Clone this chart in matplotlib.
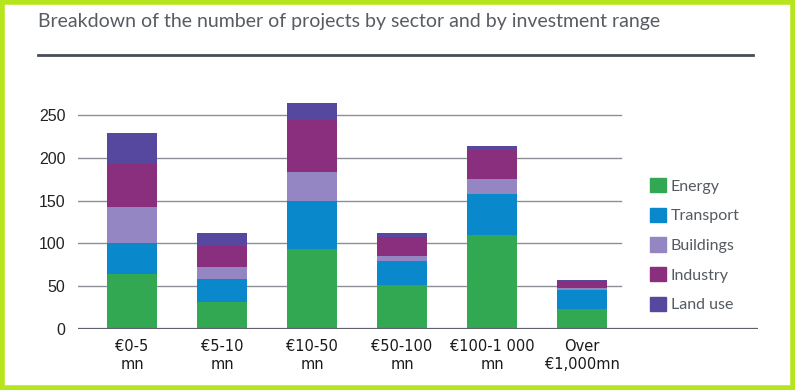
import matplotlib
matplotlib.use("Agg")
import matplotlib.pyplot as plt
from matplotlib.patches import Patch, Rectangle
import numpy as np

# data
ranges = ["€0-5\nmn", "€5-10\nmn", "€10-50\nmn", "€50-100\nmn", "€100-1 000\nmn", "Over\n€1,000mn"]
energy = [64, 32, 94, 51, 110, 23]
transport = [36, 27, 56, 28, 48, 23]
buildings = [43, 13, 33, 6, 17, 2]
industry = [50, 25, 61, 22, 34, 8]
land_use = [36, 15, 20, 5, 5, 1]
sectors = ["Energy", "Transport", "Buildings", "Industry", "Land use"]
colors = ["#33a852", "#0a88cc", "#9486c2", "#8a2f7e", "#56489e"]
yticks = [0, 50, 100, 150, 200, 250]

fig = plt.figure(figsize=(7.95, 3.9), dpi=100)

# green frame round the picture
fig.patches.append(Rectangle((0.002, 0.005), 0.995, 0.99, transform=fig.transFigure,
                             fill=False, edgecolor="#b5e61d", linewidth=4, zorder=0))

fig.text(38 / 795, 1 - 21 / 390, "Breakdown of the number of projects by sector and by investment range",
         fontsize=14, color="#575c63", family="Lato", va="center", ha="left")
fig.add_artist(plt.Line2D([38 / 795, 753 / 795], [1 - 55 / 390, 1 - 55 / 390],
                          transform=fig.transFigure, color="#474c55", linewidth=2))

ax = fig.add_axes([78 / 795, 0.1564, 680 / 795, 0.5926])
x = np.arange(len(ranges))
bottom = np.zeros(len(ranges))
series = [energy, transport, buildings, industry, land_use]
for vals, name, col in zip(series, sectors, colors):
    ax.bar(x, vals, 0.556, bottom=bottom, color=col, label=name, zorder=3)
    bottom += np.array(vals)

ax.set_xlim(-0.6, 6.956)
ax.set_ylim(0, 270)
for y in yticks[1:]:
    ax.plot([-0.6, 5.43], [y, y], color="#8c9096", linewidth=1, zorder=1)
ax.axhline(0, color="#5d626a", linewidth=1.6, zorder=4)

ax.set_yticks(yticks)
ax.set_yticklabels([str(v) for v in yticks], fontsize=11.5, color="#222222", family="Liberation Sans")
ax.set_xticks(x)
ax.set_xticklabels(ranges, fontsize=10.5, color="#1a1a1a", linespacing=1.3)
ax.tick_params(axis="both", length=0)
ax.tick_params(axis="y", pad=9)
ax.tick_params(axis="x", pad=7)
for s in ax.spines.values():
    s.set_visible(False)

handles = [Patch(color=c, label=n) for c, n in zip(colors, sectors)]
fig.legend(handles=handles, loc="upper left", bbox_to_anchor=(642 / 795, 1 - 170 / 390),
           frameon=False, labelcolor="#555a60", prop={"family": "Lato", "size": 11.5},
           handlelength=1.0, handleheight=1.0, handletextpad=0.3, labelspacing=0.88, borderpad=0)

fig.savefig("out.png", dpi=100, facecolor="white")
